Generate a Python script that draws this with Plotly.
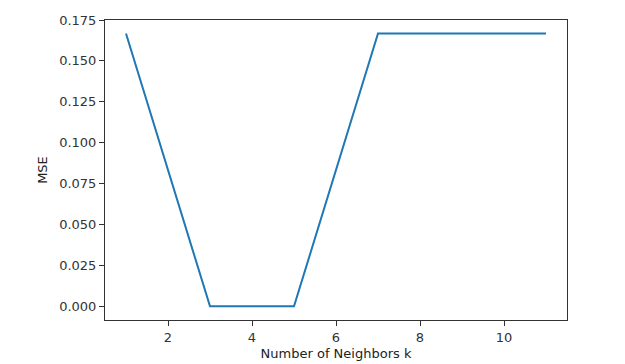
import plotly.graph_objects as go

k_values = [1, 3, 5, 7, 9, 11]
mse_values = [0.1667, 0.0, 0.0, 0.1667, 0.1667, 0.1667]
x_ticks = [2, 4, 6, 8, 10]
y_ticks = [0.0, 0.025, 0.05, 0.075, 0.1, 0.125, 0.15, 0.175]
y_tick_text = ["0.000", "0.025", "0.050", "0.075", "0.100", "0.125", "0.150", "0.175"]

fig = go.Figure(go.Scatter(x=k_values, y=mse_values, mode="lines",
                           line=dict(color="#1f77b4", width=2)))

axis_common = dict(showline=True, linecolor="#333333", linewidth=1, mirror=True,
                   ticks="outside", ticklen=5, tickcolor="#333333", showgrid=False,
                   zeroline=False, automargin=False,
                   tickfont=dict(family="DejaVu Sans", size=13, color="#333333"))

# page body has an 8px default margin, so the figure is sized to fit the window
fig.update_layout(
    width=617, height=356,
    margin=dict(l=97, r=58, t=12, b=44),
    plot_bgcolor="white", paper_bgcolor="white",
    showlegend=False,
    font=dict(family="DejaVu Sans", size=13, color="#333333"),
    xaxis=dict(range=[0.5, 11.5], tickvals=x_ticks,
               title=dict(text="Number of Neighbors k", standoff=5,
                          font=dict(size=13, color="#222222")), **axis_common),
    yaxis=dict(range=[-0.1667 * 0.05, 0.175], tickvals=y_ticks, ticktext=y_tick_text,
               title=dict(text="MSE", standoff=8,
                          font=dict(size=13, color="#222222")), **axis_common),
)

fig.write_html("out.html")
